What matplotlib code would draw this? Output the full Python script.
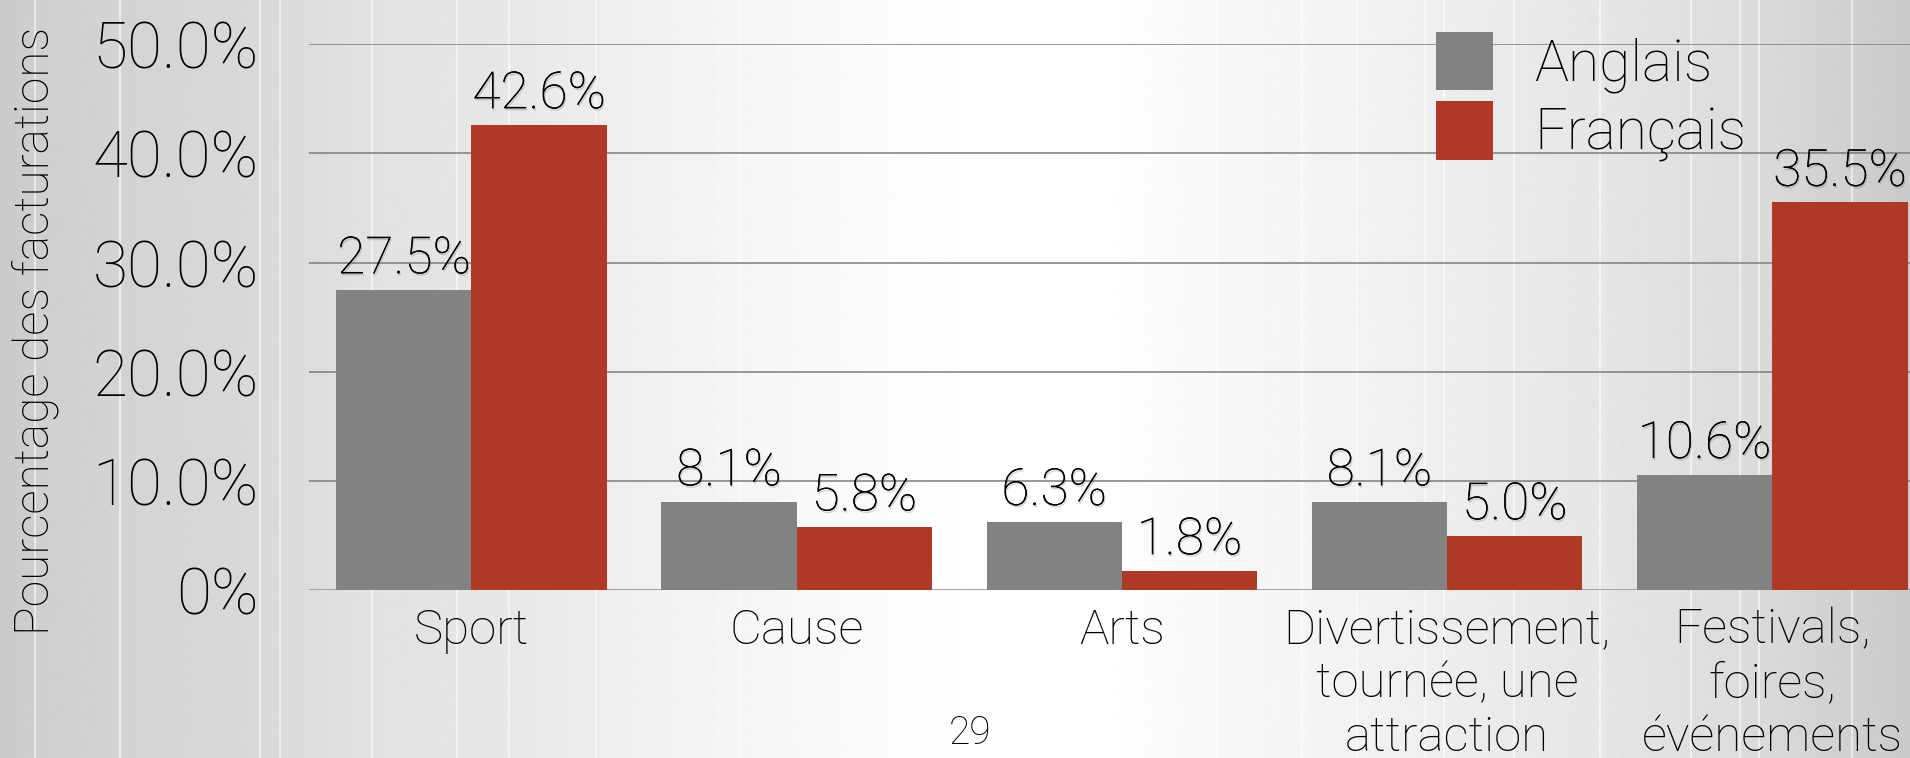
import numpy as np
import matplotlib.pyplot as plt
from matplotlib import patheffects as pe

categories = ["Sport", "Cause", "Arts",
              "Divertissement,\ntournée, une\nattraction",
              "Festivals,\nfoires,\névénements"]
anglais = [27.5, 8.1, 6.3, 8.1, 10.6]
francais = [42.6, 5.8, 1.8, 5.0, 35.5]
series_names = ["Anglais", "Français"]
y_ticks = [0, 10, 20, 30, 40, 50]
y_tick_labels = ["0%", "10.0%", "20.0%", "30.0%", "40.0%", "50.0%"]

plt.rcParams['font.family'] = ['Roboto', 'DejaVu Sans']
plt.rcParams['font.weight'] = 'light'
plt.rcParams['axes.labelweight'] = 'light'

W, H = 1910, 758
fig = plt.figure(figsize=(W / 100, H / 100), dpi=100)

# brushed-metal style backdrop: light in the middle, darker at both sides
bg = fig.add_axes([0, 0, 1, 1], zorder=0)
grad_x = [0, 35, 120, 260, 370, 500, 600, 750, 900, 1000, 1100, 1200, 1350, 1500, 1600, 1750, 1910]
grad_v = [0.79, 0.81, 0.83, 0.85, 0.885, 0.905, 0.93, 0.965, 0.99, 1.0, 1.0, 0.975, 0.95, 0.92, 0.90, 0.86, 0.79]
row = np.interp(np.arange(W), grad_x, grad_v)
bg.imshow(np.tile(row, (2, 1)), cmap='gray', vmin=0, vmax=1, aspect='auto',
          extent=[0, W, 0, H], interpolation='bilinear')
for sx in [35, 120, 260, 280, 372, 457, 509, 596, 740, 1217, 1302, 1357,
           1425, 1444, 1514, 1600, 1691, 1740, 1759, 1852]:
    bg.axvline(sx, color='white', lw=1.5, alpha=0.55)
bg.set_xlim(0, W)
bg.set_ylim(0, H)
bg.axis('off')

ax = fig.add_axes([0.1617, 0.221, 0.8513, 0.721], zorder=1)
ax.patch.set_alpha(0)

x = np.arange(len(categories))
bw = 0.416
b1 = ax.bar(x - bw / 2, anglais, bw, color='#828282', label=series_names[0], zorder=3)
b2 = ax.bar(x + bw / 2, francais, bw, color='#b03826', label=series_names[1], zorder=3)

shadow = [pe.withSimplePatchShadow(offset=(0.8, -1.5), shadow_rgbFace='#555555', alpha=0.25), pe.Normal()]
for bars, vals in [(b1, anglais), (b2, francais)]:
    for rect, v in zip(bars, vals):
        ax.annotate(f"{v:.1f}%", (rect.get_x() + rect.get_width() / 2, v),
                    xytext=(0, 4), textcoords='offset points',
                    ha='center', va='bottom', fontsize=37, zorder=4,
                    path_effects=shadow)

ax.set_xlim(-0.5, len(categories) - 0.5)
ax.set_ylim(0, 50)
ax.set_yticks(y_ticks)
ax.set_yticklabels(y_tick_labels, fontsize=46)
ax.set_xticks(x)
ax.set_xticklabels(categories, fontsize=35.5, linespacing=1.19)
ax.tick_params(axis='y', length=0, pad=36)
ax.tick_params(axis='x', length=0, pad=12)

ax.grid(axis='y', color='#7b7b85', lw=1.1, zorder=1)
ax.set_axisbelow(True)
for s in ax.spines.values():
    s.set_visible(False)
ax.axhline(0, color='#a4a4ac', lw=2, zorder=2)

ax.set_ylabel("Pourcentage des facturations", fontsize=34.5, va='center')
ax.yaxis.set_label_coords(-0.168, 0.475)

ax.legend(loc='upper left', bbox_to_anchor=(0.7518, 0.958),
          bbox_transform=fig.transFigure, frameon=False, fontsize=41,
          handlelength=1.0, handleheight=1.2, handletextpad=0.72,
          labelspacing=0.15, borderpad=0, borderaxespad=0)

fig.text(0.508, 0.033, "29", fontsize=28, ha='center', va='center')

fig.savefig("out.png", dpi=100)
